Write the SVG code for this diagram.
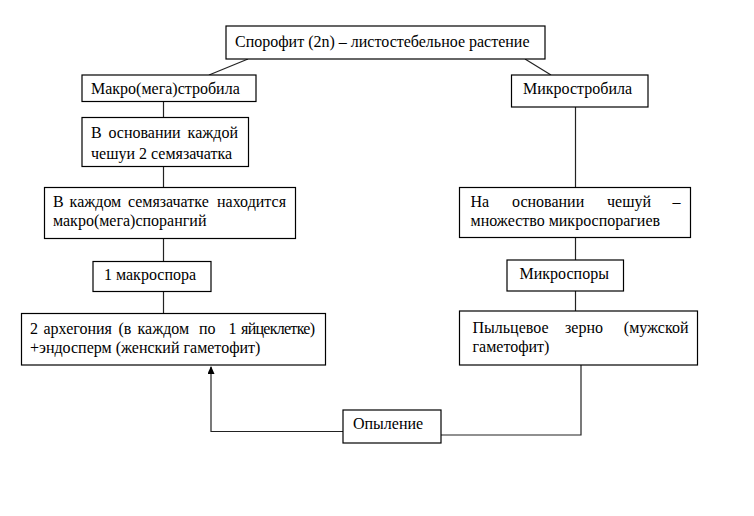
<svg xmlns="http://www.w3.org/2000/svg" width="754" height="516" viewBox="0 0 754 516">
<style>
.box{fill:#fff;stroke:#000;stroke-width:1.2}
.t{font-family:"Liberation Serif","Times New Roman",serif;font-size:16px;fill:#000}
.e{text-anchor:end}
.c{fill:none;stroke:#222;stroke-width:1.2}
</style>
<defs>
<marker id="ah" markerWidth="8" markerHeight="8" refX="7" refY="3.5" orient="auto" markerUnits="userSpaceOnUse">
<path d="M0,0 L8,3.5 L0,7 Z" fill="#000"/>
</marker>
</defs>
<rect width="754" height="516" fill="#fff"/>
<g id="connectors">
<line class="c" x1="248" y1="59" x2="209" y2="75"/>
<line class="c" x1="525" y1="59" x2="551" y2="75"/>
<line class="c" x1="163.5" y1="101.5" x2="163.5" y2="117.5"/>
<line class="c" x1="163.5" y1="166.5" x2="163.5" y2="187.5"/>
<line class="c" x1="163.5" y1="238.5" x2="163.5" y2="261.5"/>
<line class="c" x1="163.5" y1="291.5" x2="163.5" y2="313.5"/>
<line class="c" x1="575.5" y1="107" x2="575.5" y2="187.5"/>
<line class="c" x1="575.5" y1="237.5" x2="575.5" y2="260"/>
<line class="c" x1="575.5" y1="291" x2="575.5" y2="311"/>
<polyline class="c" points="581,365 581,435 441,435"/>
<polyline class="c" points="343,431.5 211,431.5 211,367" stroke="#000" marker-end="url(#ah)"/>
</g>
<g id="n-sporophyte">
<rect class="box" x="226" y="26" width="319" height="33"/>
<text class="t" x="235" y="47">Спорофит (2n) – листостебельное растение</text>
</g>
<g id="n-macrostrobile">
<rect class="box" x="82" y="75" width="174" height="26.5"/>
<text class="t" x="91" y="94">Макро(мега)стробила</text>
</g>
<g id="n-scale">
<rect class="box" x="82" y="117.5" width="166.5" height="49"/>
<text class="t" y="138"><tspan x="91">В</tspan><tspan x="108.4">основании</tspan></text>
<text class="t e" x="238" y="138">каждой</text>
<text class="t" x="91" y="159">чешуи 2 семязачатка</text>
</g>
<g id="n-ovule">
<rect class="box" x="44.5" y="187.5" width="251" height="51"/>
<text class="t" y="207"><tspan x="53">В</tspan><tspan x="69.6">каждом</tspan><tspan x="127.9">семязачатке</tspan></text>
<text class="t e" x="286" y="207">находится</text>
<text class="t" x="53" y="226">макро(мега)спорангий</text>
</g>
<g id="n-macrospore">
<rect class="box" x="93" y="261.5" width="118" height="30"/>
<text class="t" x="104" y="280">1 макроспора</text>
</g>
<g id="n-archegonia">
<rect class="box" x="21.5" y="313.5" width="304" height="51.5"/>
<text class="t" y="334"><tspan x="30">2</tspan><tspan x="43.5">архегония</tspan><tspan x="118.4">(в</tspan><tspan x="137.5">каждом</tspan><tspan x="199">по</tspan><tspan x="228.5">1</tspan></text>
<text class="t" x="241" y="334" textLength="74">яйцеклетке)</text>
<text class="t" x="30" y="353">+эндосперм (женский гаметофит)</text>
</g>
<g id="n-microstrobile">
<rect class="box" x="511.5" y="75" width="136.5" height="32"/>
<text class="t" x="523" y="94">Микростробила</text>
</g>
<g id="n-microsporangia">
<rect class="box" x="459.5" y="187.5" width="231" height="50"/>
<text class="t" y="207"><tspan x="470.5">На</tspan><tspan x="512">основании</tspan><tspan x="607">чешуй</tspan></text>
<text class="t e" x="680.5" y="207">–</text>
<text class="t" x="470.5" y="226">множество микроспорагиев</text>
</g>
<g id="n-microspores">
<rect class="box" x="507" y="260" width="116.5" height="31"/>
<text class="t" x="519.5" y="279">Микроспоры</text>
</g>
<g id="n-pollen">
<rect class="box" x="459.5" y="311" width="238" height="54"/>
<text class="t" y="333"><tspan x="472.5">Пыльцевое</tspan><tspan x="565">зерно</tspan></text>
<text class="t e" x="688.5" y="333">(мужской</text>
<text class="t" x="472.5" y="352">гаметофит)</text>
</g>
<g id="n-pollination">
<rect class="box" x="343" y="410" width="98" height="33"/>
<text class="t" x="353" y="429">Опыление</text>
</g>
</svg>
